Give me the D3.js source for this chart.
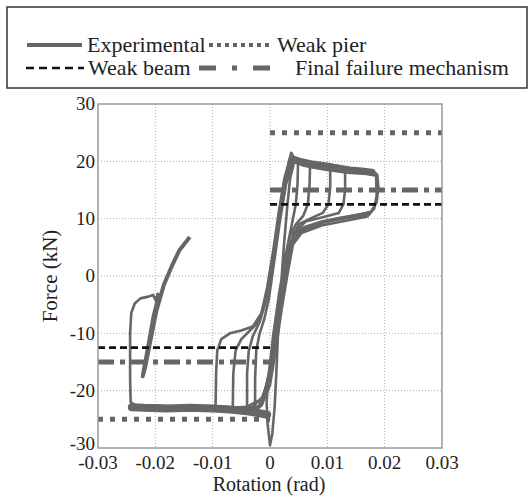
<!DOCTYPE html>
<html>
<head>
<meta charset="utf-8">
<script src="https://cdn.jsdelivr.net/npm/d3@7"></script>
<style>
  body { margin: 0; background: #fff; }
</style>
</head>
<body>
<svg id="chart" width="529" height="497"></svg>
<script>
// tick values
const xTicks = [-0.03, -0.02, -0.01, 0, 0.01, 0.02, 0.03];
const yTicks = [-30, -20, -10, 0, 10, 20, 30];

// design levels (kN) : [rotation from, rotation to, force]
const weakPier = [[0, 0.03, 25], [-0.03, 0, -25]];
const weakBeam = [[0, 0.03, 12.5], [-0.03, 0, -12.5]];
const failure  = [[0, 0.03, 15], [-0.03, 0, -15]];

// experimental hysteresis, [rotation (rad), force (kN)]
const cycle1 = [
  [0, 0], [0.0008, 5], [0.0016, 10], [0.0026, 16], [0.0033, 20], [0.0037, 21.5], [0.0042, 20.6], [0.0049, 20.2],
  [0.0048, 16], [0.0045, 12.5], [0.0038, 9], [0.0028, 4], [0.0016, -3], [0.0006, -10], [-0.0002, -17], [-0.0006, -22],
  [-0.0004, -26], [0, -29.5], [0.0004, -27.5], [0.0008, -23], [0.0011, -17], [0.0014, -10], [0.0019, -2], [0.0024, 5],
  [0.003, 12], [0.0035, 17], [0.0042, 19.8], [0.0055, 20], [0.007, 19.7], [0.0069, 16], [0.0066, 12.5], [0.0058, 10.5],
  [0.0045, 9], [0.0033, 6.5], [0.0022, 0], [0.0012, -7], [0.0004, -14], [-0.0006, -19], [-0.0014, -22.5], [-0.0026, -23.5],
  [-0.0026, -18], [-0.0024, -13], [-0.0018, -10], [-0.001, -7.5], [-0.0002, -4], [0.0008, 3], [0.0018, 10], [0.0028, 16],
  [0.0038, 19.5], [0.005, 20.3]
];
const cycle2 = [
  [0.005, 20.3], [0.007, 19.9], [0.009, 19.5], [0.0105, 19.2], [0.0105, 15.5], [0.0102, 12.5], [0.0092, 11], [0.007, 10],
  [0.005, 9], [0.0036, 6], [0.0025, 0], [0.0014, -7], [0.0004, -14], [-0.0008, -20], [-0.002, -22.8], [-0.004, -23.5],
  [-0.004, -17], [-0.0037, -13], [-0.003, -10.5], [-0.0018, -8], [-0.0006, -4], [0.0004, 2], [0.0014, 9], [0.0024, 15],
  [0.0034, 19.5], [0.0048, 20.5], [0.0075, 19.9], [0.0105, 19.5], [0.0131, 18.9]
];
const cycle3 = [
  [0.0131, 18.9], [0.0131, 15], [0.0128, 12.5], [0.012, 11], [0.009, 10.2], [0.0062, 9.5], [0.0042, 7.5], [0.0032, 3],
  [0.0022, -3], [0.0012, -10], [0.0002, -16], [-0.0012, -21], [-0.003, -22.8], [-0.0065, -23.3], [-0.0064, -17],
  [-0.006, -13], [-0.005, -11], [-0.0035, -9.5], [-0.002, -8], [-0.0008, -4.5], [0.0002, 1], [0.0012, 8], [0.0022, 14],
  [0.0031, 19], [0.004, 20.8], [0.006, 20], [0.009, 19.4], [0.012, 19], [0.015, 18.6], [0.0175, 18.3], [0.0187, 17.8]
];
const cycle4 = [
  [0.0187, 17.8], [0.0189, 15.5], [0.0186, 12.8], [0.0176, 11.2], [0.015, 10.6], [0.012, 10], [0.009, 9.3], [0.006, 8.2],
  [0.0042, 6.5], [0.0032, 2], [0.0022, -4], [0.0012, -11], [0.0002, -17], [-0.0015, -21.5], [-0.004, -22.8], [-0.007, -23],
  [-0.0095, -23], [-0.0094, -17], [-0.0092, -13], [-0.0085, -11], [-0.007, -10], [-0.005, -9.5], [-0.003, -8.8],
  [-0.0015, -6.5], [-0.0005, -2], [0.0005, 4], [0.0015, 11], [0.0025, 17], [0.0035, 20.5], [0.0045, 20], [0.007, 19],
  [0.01, 18.5], [0.0135, 18], [0.017, 17.8], [0.0185, 17.5], [0.0186, 14], [0.0182, 11.8], [0.017, 10.4], [0.013, 9.6],
  [0.009, 8.8], [0.0055, 7.5], [0.004, 5.5], [0.003, 0], [0.002, -6], [0.001, -13], [0, -19], [-0.0015, -22.6]
];
const cycleFinal = [
  [-0.0015, -22.6], [-0.004, -23.2], [-0.008, -22.8], [-0.012, -22.7], [-0.016, -22.8], [-0.02, -22.6], [-0.0235, -22.5],
  [-0.0243, -22], [-0.0244, -18], [-0.0244, -10], [-0.0242, -6.5], [-0.0236, -4.8], [-0.0226, -3.9], [-0.0212, -3.6],
  [-0.0204, -3.3], [-0.0199, -4.3], [-0.0196, -3.1], [-0.0193, -3.6]
];
const tail = [
  [-0.0194, -3.4], [-0.0203, -7], [-0.0212, -12], [-0.0222, -17.5], [-0.0218, -16], [-0.021, -12], [-0.0198, -6],
  [-0.0185, -1.5], [-0.017, 2], [-0.0158, 4.5], [-0.0146, 6], [-0.014, 6.8]
];
// centre lines of the noisy plateau bands
const negPlateau = [
  [-0.0241, -22.9], [-0.022, -23], [-0.018, -23.1], [-0.014, -23], [-0.01, -23.1], [-0.007, -23.3],
  [-0.004, -23.6], [-0.002, -23.9], [-0.0005, -24.2]
];
const posPlateau = [
  [0.0042, 20.3], [0.006, 19.6], [0.008, 19.3], [0.01, 19], [0.012, 18.8], [0.014, 18.5], [0.016, 18.3],
  [0.0178, 18.1]
];
const posLower = [
  [0.0045, 7.4], [0.006, 8.4], [0.009, 9.4], [0.012, 10], [0.015, 10.5], [0.0172, 10.9]
];
const cycles = [cycle1, cycle2, cycle3, cycle4, cycleFinal];

const serif = "'Liberation Serif', 'Times New Roman', Times, 'DejaVu Serif', serif";

const svg = d3.select('#chart');
const x = d3.scaleLinear().domain([-0.03, 0.03]).range([98, 442]);
const y = d3.scaleLinear().domain([-30, 30]).range([448, 104]);

// grid
svg.append('g').selectAll('line.vg')
  .data(xTicks.slice(1, -1)).enter().append('line')
  .attr('x1', d => x(d)).attr('x2', d => x(d))
  .attr('y1', y(30)).attr('y2', y(-30))
  .style('stroke', '#aaa').style('stroke-dasharray', '1,2');
svg.append('g').selectAll('line.hg')
  .data(yTicks.slice(1, -1)).enter().append('line')
  .attr('x1', x(-0.03)).attr('x2', x(0.03))
  .attr('y1', d => y(d)).attr('y2', d => y(d))
  .style('stroke', '#aaa').style('stroke-dasharray', '1,2');

const line = d3.line().x(d => x(d[0])).y(d => y(d[1]));
const gray = '#666';

// experimental curve
svg.append('path').attr('d', line(negPlateau))
  .style('fill', 'none').style('stroke', gray).style('stroke-width', 8).style('stroke-linecap', 'round');
svg.append('path').attr('d', line(posPlateau))
  .style('fill', 'none').style('stroke', gray).style('stroke-width', 7).style('stroke-linecap', 'round');
svg.append('path').attr('d', line(posLower))
  .style('fill', 'none').style('stroke', gray).style('stroke-width', 4).style('stroke-linecap', 'round');
svg.append('g').selectAll('path')
  .data(cycles).enter().append('path')
  .attr('d', line)
  .style('fill', 'none').style('stroke', gray).style('stroke-width', 2.6).style('stroke-linejoin', 'round');
svg.append('path').attr('d', line(tail))
  .style('fill', 'none').style('stroke', gray).style('stroke-width', 4).style('stroke-linejoin', 'round');

// design levels
function levels(data, color, width, dash) {
  svg.append('g').selectAll('line')
    .data(data).enter().append('line')
    .attr('x1', d => x(d[0])).attr('x2', d => x(d[1]))
    .attr('y1', d => y(d[2])).attr('y2', d => y(d[2]))
    .style('stroke', color).style('stroke-width', width).style('stroke-dasharray', dash);
}
levels(weakPier, gray, 5, '5,7');
levels(failure, gray, 5, '16,6,5,6');
levels(weakBeam, '#111', 2.6, '7,4');

// frame
svg.append('rect')
  .attr('x', x(-0.03)).attr('y', y(30))
  .attr('width', x(0.03) - x(-0.03)).attr('height', y(-30) - y(30))
  .style('fill', 'none').style('stroke', '#999').style('stroke-width', 1.5);

// tick labels
svg.append('g').selectAll('text')
  .data(xTicks).enter().append('text')
  .attr('x', d => x(d)).attr('y', 469)
  .attr('font-family', serif).style('font-family', serif).style('fill', '#222')
  .style('text-anchor', 'middle').style('font-size', '19px')
  .text(d => d === 0 ? '0' : d3.format('.2f')(d).replace('−', '-'));
svg.append('g').selectAll('text')
  .data(yTicks).enter().append('text')
  .attr('x', 95).attr('y', d => y(d)).attr('dy', d => d === -30 ? '0.1em' : '0.33em')
  .attr('font-family', serif).style('font-family', serif).style('fill', '#222')
  .style('text-anchor', 'end').style('font-size', '19px')
  .text(d => String(d));

svg.append('text').attr('x', 269).attr('y', 491)
  .attr('font-family', serif).style('font-family', serif).style('fill', '#222')
  .style('text-anchor', 'middle').style('font-size', '20px').text('Rotation (rad)');
svg.append('text').attr('transform', 'translate(57,276) rotate(-90)')
  .attr('font-family', serif).style('font-family', serif).style('fill', '#222')
  .style('text-anchor', 'middle').style('font-size', '21px').text('Force (kN)');

// legend
svg.append('rect').attr('x', 7).attr('y', 7).attr('width', 520).attr('height', 81)
  .style('fill', '#fff').style('stroke', '#333').style('stroke-width', 1.5);
const legendItems = [
  { label: 'Experimental', x1: 27, x2: 82, tx: 87, y: 45, color: gray, w: 4, dash: null },
  { label: 'Weak pier', x1: 209, x2: 273, tx: 277, y: 45, color: gray, w: 4, dash: '4,4' },
  { label: 'Weak beam', x1: 26, x2: 84, tx: 88, y: 68, color: '#111', w: 2.6, dash: '8,5' },
  { label: 'Final failure mechanism', x1: 199, x2: 282, tx: 295, y: 68, color: gray, w: 5, dash: '17,16,5,16' }
];
const lg = svg.append('g').selectAll('g').data(legendItems).enter().append('g');
lg.append('line')
  .attr('x1', d => d.x1).attr('x2', d => d.x2).attr('y1', d => d.y).attr('y2', d => d.y)
  .style('stroke', d => d.color).style('stroke-width', d => d.w)
  .style('stroke-dasharray', d => d.dash);
lg.append('text')
  .attr('x', d => d.tx).attr('y', d => d.y).attr('dy', '0.3em')
  .attr('font-family', serif).style('font-family', serif).style('fill', '#222')
  .style('font-size', '22px').text(d => d.label);
</script>
</body>
</html>
